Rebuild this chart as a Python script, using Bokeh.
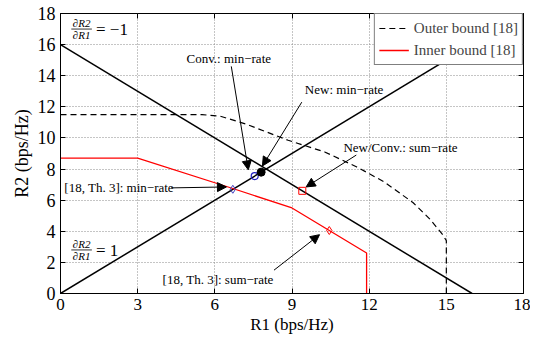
from bokeh.plotting import figure
from bokeh.models import Label, Arrow, NormalHead, LinearAxis, FixedTicker, Range1d
from bokeh.embed import file_html
from bokeh.resources import INLINE

# ---------------- data ----------------
x_ticks = [0, 3, 6, 9, 12, 15, 18]
y_ticks = [0, 2, 4, 6, 8, 10, 12, 14, 16, 18]

# sum-rate line  R1 + R2 = 16  (dR2/dR1 = -1)
sum_r1 = [0, 16]
sum_r2 = [16, 0]
# min-rate line  R2 = R1  (dR2/dR1 = 1)
min_r1 = [0, 18]
min_r2 = [0, 18]

# Outer bound [18]
outer_r1 = [0, 5.5, 6.2, 7.2, 8.85, 10.27, 11.5, 12.56, 13.7, 14.35, 14.85, 15.0, 15.0]
outer_r2 = [11.5, 11.5, 11.4, 10.9, 9.85, 9.1, 8.15, 7.2, 5.85, 4.8, 3.8, 3.4, 0.0]

# Inner bound [18]
inner_r1 = [0, 3.0, 6.7, 9.0, 11.9, 11.9]
inner_r2 = [8.7, 8.7, 6.75, 5.5, 2.6, 0.0]

# operating points
new_min = ([7.8], [7.8])        # New: min-rate
conv_min = ([7.55], [7.55])     # Conv.: min-rate
th3_min = ([6.7], [6.7])        # [18, Th. 3]: min-rate
newconv_sum = ([9.4], [6.6])    # New/Conv.: sum-rate
th3_sum = ([10.45], [4.05])     # [18, Th. 3]: sum-rate

SERIF = "Liberation Serif"

p = figure(frame_width=463, frame_height=280, output_backend="svg", toolbar_location=None,
           x_range=Range1d(0, 18), y_range=Range1d(0, 18),
           min_border_left=60, min_border_right=7, min_border_top=13, min_border_bottom=42)
p.background_fill_color = "white"
p.border_fill_color = "white"
p.outline_line_color = "black"
p.outline_line_width = 1

# axes
for ax in (p.xaxis[0], p.yaxis[0]):
    ax.major_tick_in = 5
    ax.major_tick_out = 0
    ax.minor_tick_line_color = None
    ax.axis_line_color = "black"
    ax.major_tick_line_color = "black"
    ax.major_label_text_font = SERIF
    ax.major_label_text_font_size = "18px"
    ax.major_label_text_color = "black"
    ax.axis_label_text_font = SERIF
    ax.axis_label_text_font_size = "18px"
    ax.axis_label_text_font_style = "normal"
    ax.axis_label_text_color = "black"
p.xaxis.major_label_text_font_size = "17px"
p.xaxis.axis_label_text_font_size = "17px"
p.xaxis.ticker = FixedTicker(ticks=x_ticks)
p.yaxis.ticker = FixedTicker(ticks=y_ticks)
p.xaxis.axis_label = "R1 (bps/Hz)"
p.yaxis.axis_label = "R2 (bps/Hz)"
p.xaxis.major_label_standoff = 5
p.xaxis.axis_label_standoff = 2
p.yaxis.major_label_standoff = 5
p.yaxis.axis_label_standoff = 3

p.xgrid.ticker = FixedTicker(ticks=x_ticks)
p.ygrid.ticker = FixedTicker(ticks=y_ticks)
for g in (p.xgrid[0], p.ygrid[0]):
    g.grid_line_color = "#8a8a8a"
    g.grid_line_dash = "1 2"
    g.grid_line_width = 1

# lines
p.line(sum_r1, sum_r2, line_color="black", line_width=1.5)
p.line(min_r1, min_r2, line_color="black", line_width=1.5)
p.line(outer_r1, outer_r2, line_color="black", line_width=1.2, line_dash="6 4",
       legend_label="Outer bound [18]")
p.line(inner_r1, inner_r2, line_color="red", line_width=1.3,
       legend_label="Inner bound [18]")

# markers
p.scatter(conv_min[0], conv_min[1], marker="circle", size=7, fill_color=None,
          line_color="#2020c0", line_width=1.2)
p.scatter(new_min[0], new_min[1], marker="circle", size=8, fill_color="black",
          line_color="black")
p.scatter(th3_min[0], th3_min[1], marker="diamond", size=8, fill_color=None,
          line_color="#4040c0", line_width=1)
p.scatter(newconv_sum[0], newconv_sum[1], marker="square", size=7, fill_color=None,
          line_color="red", line_width=1)
p.scatter(th3_sum[0], th3_sum[1], marker="diamond", size=8, fill_color=None,
          line_color="red", line_width=1)

# legend
lg = p.legend[0]
lg.location = "top_right"
lg.margin = 0
lg.padding = 4
lg.spacing = 2
lg.label_standoff = 5
lg.glyph_width = 30
lg.glyph_height = 20
lg.label_height = 20
lg.label_text_font = SERIF
lg.label_text_font_size = "15px"
lg.border_line_color = "black"
lg.border_line_width = 1
lg.background_fill_alpha = 1

# annotation texts
def lab(x, y, t, size="13px", style="normal", align="left"):
    p.add_layout(Label(x=x, y=y, text=t, text_font=SERIF, text_font_size=size,
                       text_font_style=style, text_baseline="middle", text_align=align,
                       text_color="black"))

lab(4.9, 15.1, "Conv.: min−rate")
lab(9.5, 13.1, "New: min−rate")
lab(11.0, 9.4, "New/Conv.: sum−rate")
lab(0.15, 6.8, "[18, Th. 3]: min−rate")
lab(3.97, 0.87, "[18, Th. 3]: sum−rate")

# derivative annotations
lab(0.82, 17.4, "∂R2", size="11px", style="italic", align="center")
lab(0.82, 16.62, "∂R1", size="11px", style="italic", align="center")
p.segment(x0=[0.42], y0=[17.0], x1=[1.22], y1=[17.0], line_color="black", line_width=0.8)
lab(1.38, 16.98, "= −1", size="17px")

lab(0.82, 3.2, "∂R2", size="11px", style="italic", align="center")
lab(0.82, 2.42, "∂R1", size="11px", style="italic", align="center")
p.segment(x0=[0.42], y0=[2.8], x1=[1.22], y1=[2.8], line_color="black", line_width=0.8)
lab(1.38, 2.78, "= 1", size="17px")

# arrows
def arr(x0, y0, x1, y1):
    p.add_layout(Arrow(end=NormalHead(size=9, fill_color="black", line_color="black"),
                       x_start=x0, y_start=y0, x_end=x1, y_end=y1,
                       line_color="black", line_width=1))

arr(6.64, 14.6, 7.3, 7.95)
arr(9.38, 12.3, 7.85, 8.2)
arr(11.5, 8.9, 9.55, 6.85)
arr(4.3, 6.79, 6.45, 6.85)
arr(8.3, 1.5, 10.07, 3.78)

# box ticks on top/right (no labels)
top = LinearAxis(ticker=FixedTicker(ticks=x_ticks), major_tick_in=5, major_tick_out=0,
                 axis_line_color=None, major_label_overrides={t: "" for t in x_ticks},
                 major_label_standoff=0, minor_tick_line_color=None)
right = LinearAxis(ticker=FixedTicker(ticks=y_ticks), major_tick_in=5, major_tick_out=0,
                   axis_line_color=None, major_label_overrides={t: "" for t in y_ticks},
                   major_label_standoff=0, minor_tick_line_color=None)
p.add_layout(top, "above")
p.add_layout(right, "right")

open("out.html", "w").write(file_html(p, INLINE))
